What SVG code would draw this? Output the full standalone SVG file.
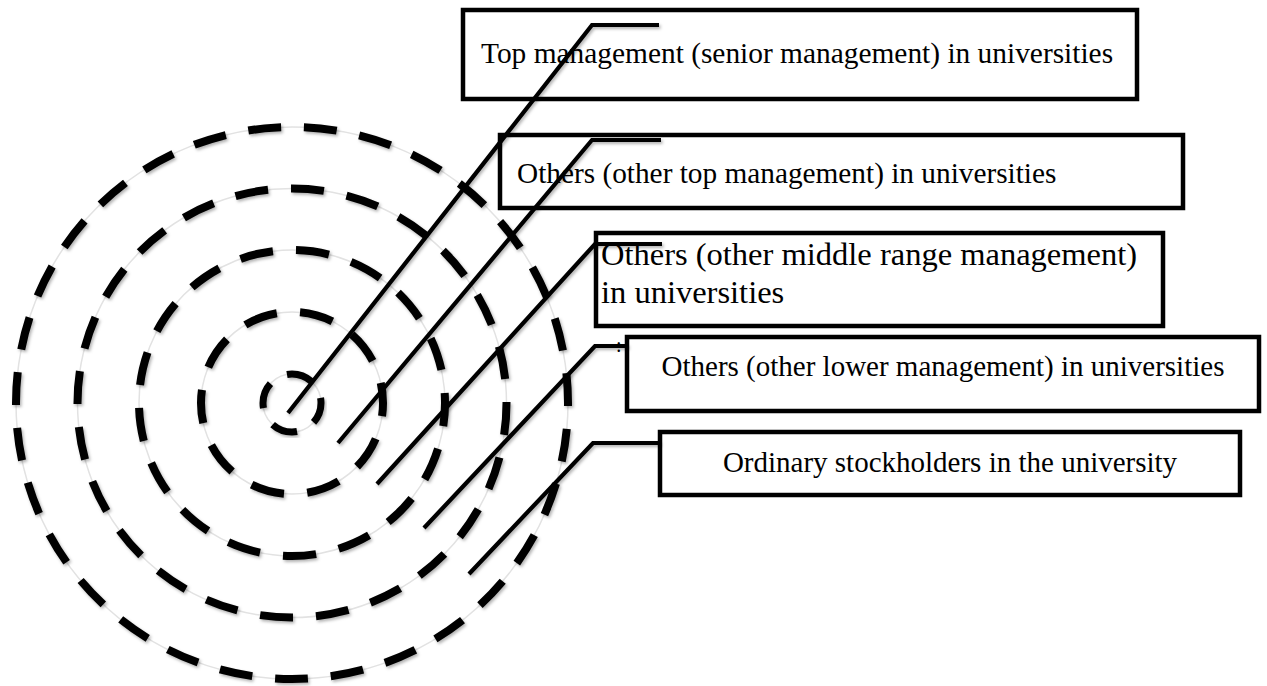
<svg xmlns="http://www.w3.org/2000/svg" width="1267" height="686" viewBox="0 0 1267 686">
  <defs>
    <filter id="shadow" x="-10%" y="-10%" width="120%" height="120%">
      <feDropShadow dx="1.5" dy="2" stdDeviation="1.5" flood-color="#000" flood-opacity="0.3"/>
    </filter>
  </defs>
  <style>
    .guide { fill: none; stroke: #e2e2e2; stroke-width: 1.5; }
    .ring { fill: none; stroke: #000; stroke-width: 8; stroke-dasharray: 33 23; filter: url(#shadow); }
    .box { fill: #fff; stroke: #000; stroke-width: 4.5; }
    .link { fill: none; stroke: #000; stroke-width: 4.2; stroke-linejoin: miter; filter: url(#shadow); }
    .label { font-family: "Liberation Serif", "Times New Roman", serif; font-size: 29px; fill: #000; }
  </style>
  <rect width="1267" height="686" fill="#fff"/>

  <!-- concentric dashed rings -->
  <g id="rings">
    <circle class="guide" cx="292" cy="403" r="276"/>
    <circle class="guide" cx="292" cy="403" r="214.5"/>
    <circle class="guide" cx="292" cy="403" r="153"/>
    <circle class="guide" cx="292" cy="403" r="91"/>
    <circle class="guide" cx="292" cy="403" r="29"/>
    <circle class="ring" cx="292" cy="403" r="276" pathLength="1736" stroke-dashoffset="30"/>
    <circle class="ring" cx="292" cy="403" r="214.5" pathLength="1344" stroke-dashoffset="1"/>
    <circle class="ring" cx="292" cy="403" r="153" pathLength="952" stroke-dashoffset="10"/>
    <circle class="ring" cx="292" cy="403" r="91" pathLength="560" stroke-dashoffset="20"/>
    <circle class="ring" cx="292" cy="403" r="29" pathLength="180" style="stroke-dasharray:26 19; stroke-width:7" stroke-dashoffset="5"/>
  </g>

  <!-- label boxes -->
  <g id="box-top">
    <rect class="box" x="463" y="10" width="674" height="89"/>
    <text class="label" x="481" y="63" style="font-size:29.4px">Top management (senior management) in universities</text>
  </g>
  <g id="box-other-top">
    <rect class="box" x="500" y="135" width="683" height="73"/>
    <text class="label" x="517" y="183" style="font-size:29.3px">Others (other top management) in universities</text>
  </g>
  <g id="box-middle">
    <rect class="box" x="596" y="233" width="567" height="93"/>
    <text class="label" x="601" y="265" style="font-size:32.5px">Others (other middle range management)</text>
    <text class="label" x="601" y="303" style="font-size:32.5px">in universities</text>
  </g>
  <g id="box-lower">
    <rect class="box" x="627" y="337" width="632" height="74"/>
    <text class="label" x="943" y="376" text-anchor="middle">Others (other lower management) in universities</text>
    <text class="label" x="616" y="352" style="font-size:20px">:</text>
  </g>
  <g id="box-ordinary">
    <rect class="box" x="660" y="432" width="580" height="63"/>
    <text class="label" x="950" y="472" text-anchor="middle">Ordinary stockholders in the university</text>
  </g>

  <!-- leader lines from rings to boxes -->
  <g id="connectors">
    <polyline class="link" points="288,413 592,25 659,25"/>
    <polyline class="link" points="338,443 592,140 661,140"/>
    <polyline class="link" points="377,484 595,244 662,244"/>
    <polyline class="link" points="424,528 595,346 628,346"/>
    <polyline class="link" points="469,574 593,443 660,443"/>
  </g>
</svg>
